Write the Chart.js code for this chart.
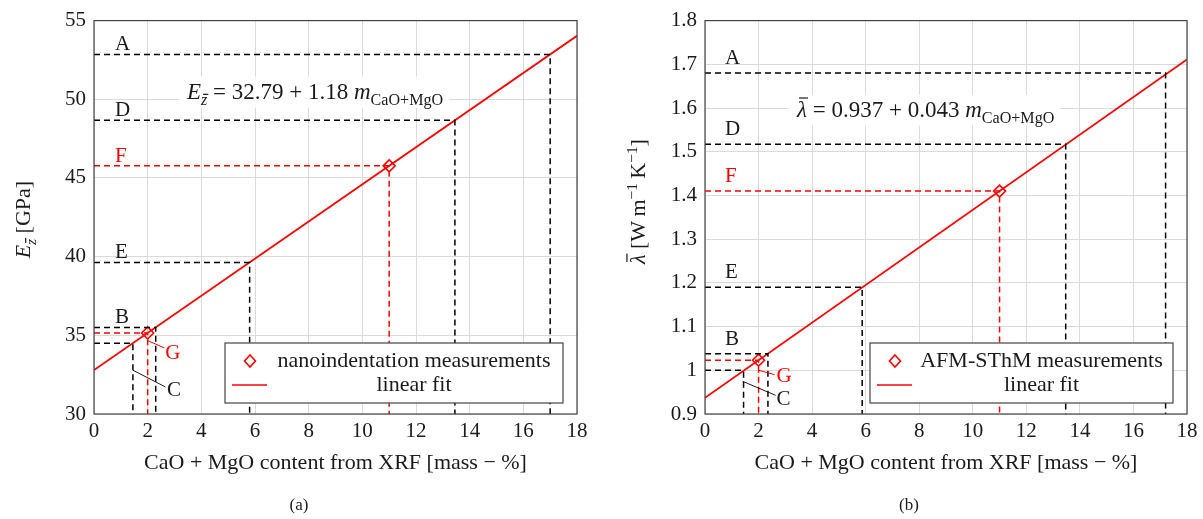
<!DOCTYPE html>
<html>
<head>
<meta charset="utf-8">
<script src="https://cdn.jsdelivr.net/npm/chart.js@4.4.1/dist/chart.umd.min.js"></script>
<style>
  body { margin: 0; background: #fff; width: 1203px; height: 519px; position: relative; overflow: hidden; font-family: "Liberation Serif", serif; }
  .panel { position: absolute; top: 0; height: 519px; }
  #panelA { left: 0; width: 600px; }
  #panelB { left: 600px; width: 603px; }
  .cap { position: absolute; top: 495px; font-size: 17px; color: #1a1a1a; transform: translateX(-50%); }
</style>
</head>
<body>
<div class="panel" id="panelA"><canvas id="modulusChart" width="600" height="519"></canvas></div>
<div class="panel" id="panelB"><canvas id="conductChart" width="603" height="519"></canvas></div>
<div class="cap" style="left:299px">(a)</div>
<div class="cap" style="left:909px">(b)</div>

<script>
// reference points (A..G), x = CaO + MgO content
const refNames = ['A', 'B', 'C', 'D', 'E', 'F', 'G']
const measuredRefs = ['F', 'G']
const modulusX = [17.0, 2.3, 1.45, 13.45, 5.8, 11.0, 2.0]
const modulusY = [52.85, 35.5, 34.5, 48.66, 39.63, 45.77, 35.15]
const conductX = [17.2, 2.35, 1.44, 13.47, 5.87, 11.0, 2.0]
const conductY = [1.68, 1.038, 1.0, 1.517, 1.19, 1.41, 1.023]

// linear fit end points
const fitX = [0, 18]
const modulusFit = [32.79, 54.03]
const conductFit = [0.937, 1.711]

// axis ranges / tick steps
const xRange = [0, 18], xStep = 2
const modulusRange = [30, 55], modulusStep = 5
const conductRange = [0.9, 1.8], conductStep = 0.1

const RED = '#ff0000'
const INK = '#1a1a1a'
const FONT = '"Liberation Serif", serif'

Chart.defaults.font.family = FONT
Chart.defaults.font.size = 21
Chart.defaults.color = INK

function fontFor(seg, size) {
  const fs = (seg.sub || seg.sup) ? size * 0.7 : size
  return (seg.it ? 'italic ' : '') + fs + 'px ' + FONT
}

function richWidth(ctx, segs, size) {
  let w = 0
  segs.forEach(s => { ctx.font = fontFor(s, size); w += ctx.measureText(s.t).width })
  return w
}

// draws text with sub/superscripts, y is the vertical centre
function drawRich(ctx, segs, x, y, size, align) {
  const w = richWidth(ctx, segs, size)
  let cx = align === 'center' ? x - w / 2 : x
  const base = y + size * 0.33
  ctx.textBaseline = 'alphabetic'
  ctx.textAlign = 'left'
  segs.forEach(s => {
    const fs = (s.sub || s.sup) ? size * 0.7 : size
    const dy = s.sub ? size * 0.24 : s.sup ? -size * 0.38 : 0
    ctx.font = fontFor(s, size)
    ctx.fillText(s.t, cx, base + dy)
    const tw = ctx.measureText(s.t).width
    if (s.bar) {
      const top = s.sub ? base + dy - fs * 0.68 : base - fs * 0.86
      ctx.fillRect(cx + (s.it ? 2 : 1), top, tw - 1, 1.2)
    }
    cx += tw
  })
  return w
}

function refLines(xs, ys, yMin) {
  return refNames.map((name, i) => ({
    data: [{x: 0, y: ys[i]}, {x: xs[i], y: ys[i]}, {x: xs[i], y: yMin}],
    showLine: true,
    borderColor: measuredRefs.includes(name) ? RED : '#000',
    borderDash: [6, 4],
    borderWidth: 1.5,
    pointRadius: 0,
    fill: false
  }))
}

function measuredPoints(xs, ys) {
  return measuredRefs.map(n => ({x: xs[refNames.indexOf(n)], y: ys[refNames.indexOf(n)]}))
}

const decorPlugin = {
  id: 'decor',
  afterDraw(chart, args, o) {
    const ctx = chart.ctx
    const area = chart.chartArea
    const xs = chart.scales.x, ys = chart.scales.y
    ctx.save()

    // frame
    ctx.strokeStyle = '#444'
    ctx.lineWidth = 1.2
    ctx.strokeRect(area.left, area.top, area.right - area.left, area.bottom - area.top)

    // letter labels above the dashed lines
    ctx.font = '21px ' + FONT
    ctx.textAlign = 'left'
    ctx.textBaseline = 'alphabetic'
    refNames.forEach((name, i) => {
      const px = xs.getPixelForValue(o.refX[i])
      const py = ys.getPixelForValue(o.refY[i])
      const lead = o.leaders[name]
      ctx.fillStyle = measuredRefs.includes(name) ? RED : INK
      ctx.strokeStyle = ctx.fillStyle
      if (lead) {
        ctx.lineWidth = 1
        ctx.beginPath()
        ctx.moveTo(px + lead[0], py + lead[1])
        ctx.lineTo(px + lead[2], py + lead[3])
        ctx.stroke()
        ctx.textBaseline = 'middle'
        ctx.fillText(name, px + lead[4], py + lead[5])
        ctx.textBaseline = 'alphabetic'
      } else {
        ctx.fillText(name, area.left + o.labelInset, py - o.labelGap)
      }
    })

    // fit equation on a white box
    const ew = richWidth(ctx, o.equation, 23)
    const ex = area.left + o.eqPos[0], ey = area.top + o.eqPos[1]
    ctx.fillStyle = '#fff'
    ctx.fillRect(ex - 8, ey - 15, ew + 14, 31)
    ctx.fillStyle = INK
    drawRich(ctx, o.equation, ex, ey, 23, 'left')

    // y axis title
    ctx.save()
    ctx.translate(o.yTitlePos[0], area.top + o.yTitlePos[1])
    ctx.rotate(-Math.PI / 2)
    drawRich(ctx, o.yTitle, 0, 0, 22, 'center')
    ctx.restore()

    // x axis title
    ctx.font = '22px ' + FONT
    ctx.textAlign = 'center'
    ctx.textBaseline = 'middle'
    ctx.fillText('CaO + MgO content from XRF [mass \u2212 %]', (area.left + area.right) / 2, area.bottom + 49)

    // legend
    const L = area.left + o.legendLeft, R = area.right - 14
    const T = area.bottom - 71, B = area.bottom - 11
    ctx.fillStyle = '#fff'
    ctx.fillRect(L, T, R - L, B - T)
    ctx.strokeStyle = '#444'
    ctx.lineWidth = 1.2
    ctx.strokeRect(L, T, R - L, B - T)
    const r1 = T + 18, r2 = T + 42
    ctx.strokeStyle = RED
    ctx.lineWidth = 1.6
    ctx.beginPath()
    ctx.moveTo(L + 25, r1 - 6); ctx.lineTo(L + 30.5, r1); ctx.lineTo(L + 25, r1 + 6); ctx.lineTo(L + 19.5, r1); ctx.closePath()
    ctx.stroke()
    ctx.beginPath()
    ctx.moveTo(L + 7, r2); ctx.lineTo(L + 42, r2)
    ctx.stroke()
    ctx.fillStyle = INK
    ctx.font = '22px ' + FONT
    ctx.textAlign = 'center'
    ctx.textBaseline = 'middle'
    const tc = (L + 50 + R) / 2 - 5
    ctx.fillText(o.legendText, tc, r1)
    ctx.fillText('linear fit', tc, r2)

    ctx.restore()
  }
}

function makeChart(id, cfg) {
  return new Chart(document.getElementById(id), {
    type: 'scatter',
    data: {
      datasets: [
        ...refLines(cfg.refX, cfg.refY, cfg.yRange[0]),
        {
          data: fitX.map((x, i) => ({x: x, y: cfg.fit[i]})),
          showLine: true,
          borderColor: RED,
          borderWidth: 1.8,
          pointRadius: 0
        },
        {
          data: measuredPoints(cfg.refX, cfg.refY),
          pointStyle: 'rectRot',
          pointRadius: 6,
          pointBorderWidth: 1.6,
          pointBorderColor: RED,
          pointBackgroundColor: 'rgba(0,0,0,0)'
        }
      ]
    },
    options: {
      responsive: false,
      animation: false,
      layout: { padding: cfg.padding },
      plugins: {
        legend: { display: false },
        tooltip: { enabled: false },
        decor: cfg.decor
      },
      scales: {
        x: {
          type: 'linear', min: xRange[0], max: xRange[1],
          afterFit: s => { s.height = 60 },
          border: { display: false },
          grid: { color: '#dadada', lineWidth: 1, drawTicks: false },
          ticks: { stepSize: xStep, padding: 5, font: { size: 21 }, color: INK }
        },
        y: {
          min: cfg.yRange[0], max: cfg.yRange[1],
          afterFit: s => { s.width = cfg.yWidth },
          border: { display: false },
          grid: { color: '#dadada', lineWidth: 1, drawTicks: false },
          ticks: { stepSize: cfg.yStep, padding: 8, font: { size: 21 }, color: INK,
                   callback: v => String(+v.toFixed(2)) }
        }
      }
    },
    plugins: [decorPlugin]
  })
}

let modulusChart, conductChart

function init() {
  modulusChart = makeChart('modulusChart', {
    refX: modulusX, refY: modulusY, fit: modulusFit,
    yRange: modulusRange, yStep: modulusStep, yWidth: 94,
    padding: { left: 0, top: 14, right: 23, bottom: 45 },
    decor: {
      refX: modulusX, refY: modulusY,
      labelInset: 21, labelGap: 4,
      leaders: { G: [0, 7.6, 16.7, 15, 17.7, 21], C: [0, 27, 32.4, 43.7, 34, 47] },
      equation: [{t: 'E', it: 1}, {t: 'z', it: 1, sub: 1, bar: 1}, {t: ' = 32.79 + 1.18 '}, {t: 'm', it: 1}, {t: 'CaO+MgO', sub: 1}],
      eqPos: [93, 71],
      yTitle: [{t: 'E', it: 1}, {t: 'z', it: 1, sub: 1, bar: 1}, {t: ' [GPa]'}],
      yTitlePos: [23, 199],
      legendLeft: 131,
      legendText: 'nanoindentation measurements'
    }
  })

  conductChart = makeChart('conductChart', {
    refX: conductX, refY: conductY, fit: conductFit,
    yRange: conductRange, yStep: conductStep, yWidth: 105,
    padding: { left: 0, top: 14, right: 16, bottom: 45 },
    decor: {
      refX: conductX, refY: conductY,
      labelInset: 20, labelGap: 9,
      leaders: { G: [0, 10, 16, 14.4, 18, 16], C: [-1, 11, 32, 25, 33, 29] },
      equation: [{t: '\u03bb', it: 1, bar: 1}, {t: ' = 0.937 + 0.043 '}, {t: 'm', it: 1}, {t: 'CaO+MgO', sub: 1}],
      eqPos: [92, 89],
      yTitle: [{t: '\u03bb', it: 1, bar: 1}, {t: ' [W\u2009m'}, {t: '\u22121', sup: 1}, {t: '\u2009K'}, {t: '\u22121', sup: 1}, {t: ']'}],
      yTitlePos: [38, 181],
      legendLeft: 165,
      legendText: 'AFM-SThM measurements'
    }
  })
}

init()
</script>
</body>
</html>
